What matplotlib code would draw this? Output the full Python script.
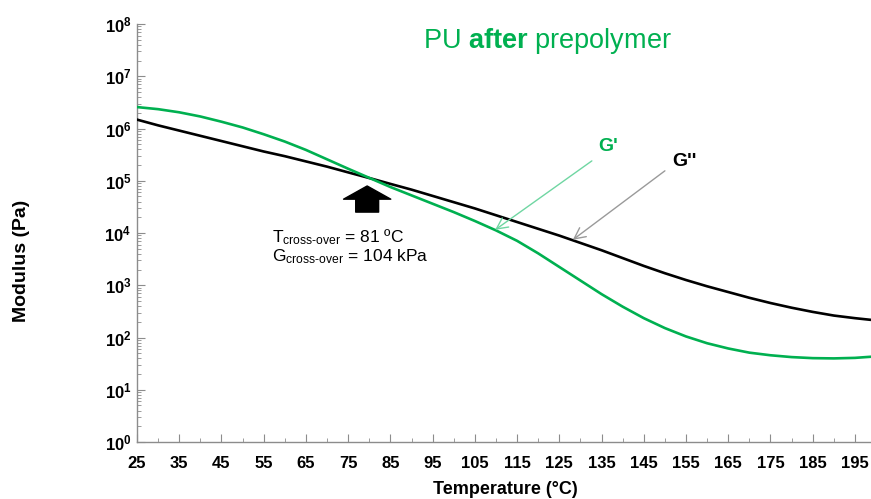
import numpy as np
import matplotlib
matplotlib.use("Agg")
import matplotlib.pyplot as plt
from matplotlib.ticker import FixedLocator, MultipleLocator, LogLocator, NullFormatter

plt.rcParams['font.family'] = ['Liberation Sans', 'DejaVu Sans']
plt.rcParams['mathtext.fontset'] = 'custom'
plt.rcParams['mathtext.rm'] = 'Liberation Sans'
plt.rcParams['mathtext.bf'] = 'Liberation Sans:bold'
plt.rcParams['mathtext.it'] = 'Liberation Sans:italic'

# temperature (°C) and log10 of modulus (Pa)
temp = [25, 30, 35, 40, 45, 50, 55, 60, 65, 70, 75, 81, 85, 90, 95, 100, 105, 110,
        115, 120, 125, 130, 135, 140, 145, 150, 155, 160, 165, 170, 175, 180, 185,
        190, 195, 198.5]
log_g1 = [6.41, 6.37, 6.31, 6.23, 6.13, 6.02, 5.89, 5.75, 5.59, 5.41, 5.23, 5.02,
          4.88, 4.72, 4.56, 4.40, 4.23, 4.05, 3.85, 3.61, 3.35, 3.09, 2.83, 2.59,
          2.37, 2.18, 2.02, 1.89, 1.79, 1.71, 1.66, 1.625, 1.605, 1.60, 1.61, 1.63]
log_g2 = [6.17, 6.06, 5.96, 5.86, 5.76, 5.66, 5.56, 5.47, 5.37, 5.27, 5.16, 5.03,
          4.94, 4.83, 4.71, 4.59, 4.47, 4.34, 4.21, 4.08, 3.95, 3.81, 3.67, 3.52,
          3.37, 3.23, 3.10, 2.98, 2.87, 2.76, 2.66, 2.57, 2.49, 2.42, 2.37, 2.34]

x_ticks = list(range(25, 200, 10))
y_exps = list(range(0, 9))

GREEN = '#00b050'

g1 = 10 ** np.array(log_g1)
g2 = 10 ** np.array(log_g2)

fig = plt.figure(figsize=(8.71, 4.99), dpi=100)
ax = fig.add_axes([137 / 871, 57 / 499, 734 / 871, 418 / 499])

ax.plot(temp, g2, color='black', lw=1.9, zorder=3)
ax.plot(temp, g1, color=GREEN, lw=1.9, zorder=3)

ax.set_yscale('log')
ax.set_ylim(1, 1e8)
ax.set_xlim(25, 198.8)

ax.xaxis.set_major_locator(FixedLocator(x_ticks))
ax.xaxis.set_minor_locator(MultipleLocator(5))
ax.set_xticklabels([str(t) for t in x_ticks], fontsize=12, fontweight='bold')
ax.yaxis.set_major_locator(FixedLocator([10.0 ** k for k in y_exps]))
ax.yaxis.set_minor_locator(LogLocator(base=10, subs=np.arange(2, 10), numticks=20))
ax.yaxis.set_minor_formatter(NullFormatter())
ax.set_yticklabels([r'$\mathbf{10^{%d}}$' % k for k in y_exps], fontsize=12)

for s in ['top', 'right']:
    ax.spines[s].set_visible(False)
for s in ['left', 'bottom']:
    ax.spines[s].set_color('#8c8c8c')
    ax.spines[s].set_linewidth(1.0)
ax.tick_params(which='both', direction='in', color='#8c8c8c')
ax.tick_params(axis='x', which='major', length=6, pad=10)
ax.tick_params(axis='x', which='minor', length=3)
ax.tick_params(axis='y', which='major', length=6, pad=4)
ax.tick_params(axis='y', which='minor', length=3)

fig.text(22 / 871, 1 - 261 / 499, 'Modulus (Pa)', rotation=90, ha='center', va='center',
         fontsize=14, fontweight='bold')
fig.text(505 / 871, 1 - 490 / 499, 'Temperature (°C)', ha='center', va='center',
         fontsize=13, fontweight='bold')

ax.text(122.1, 10 ** 7.67, r'PU $\mathbf{after}$ prepolymer', color=GREEN,
        ha='center', va='center', fontsize=19.5)

# cross-over arrow and text
ax.annotate('', xy=(79.5, 10 ** 4.90), xytext=(79.5, 10 ** 4.40),
            arrowprops=dict(arrowstyle='simple,head_length=0.95,head_width=3.4,tail_width=1.65',
                            fc='black', ec='black', shrinkA=0, shrinkB=0, mutation_scale=10))
ax.text(57.0, 10 ** 3.83, r'T$_{\mathrm{cross\text{-}over}}$ = 81 ºC', fontsize=12.5,
        ha='left', va='baseline')
ax.text(57.0, 10 ** 3.46, r'G$_{\mathrm{cross\text{-}over}}$ = 104 kPa', fontsize=12.5,
        ha='left', va='baseline')

# G' and G'' labels
ax.text(136.5, 10 ** 5.65, "G'", color=GREEN, fontsize=14, fontweight='bold',
        ha='center', va='center')
ax.annotate('', xy=(109.8, 10 ** 4.06), xytext=(132.7, 10 ** 5.38),
            arrowprops=dict(arrowstyle='->,head_length=0.8,head_width=0.4', color='#6fd6a2',
                            lw=1.0, shrinkA=0, shrinkB=0))
ax.text(154.7, 10 ** 5.36, "G''", color='black', fontsize=14, fontweight='bold',
        ha='center', va='center')
ax.annotate('', xy=(128.2, 10 ** 3.87), xytext=(150.0, 10 ** 5.19),
            arrowprops=dict(arrowstyle='->,head_length=0.8,head_width=0.4', color='#9a9a9a',
                            lw=1.0, shrinkA=0, shrinkB=0))

fig.savefig('out.png', dpi=100)
